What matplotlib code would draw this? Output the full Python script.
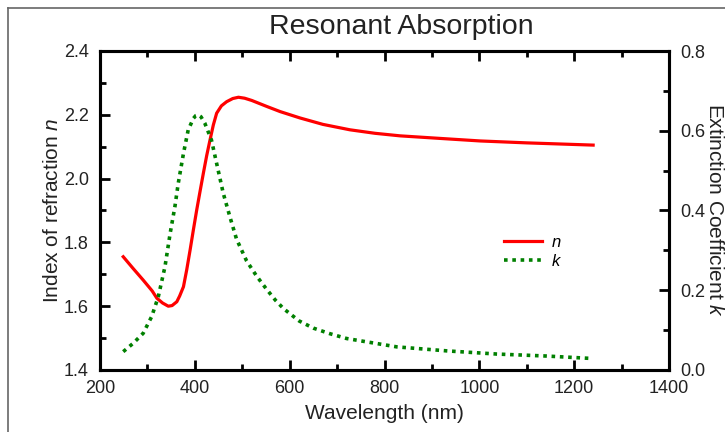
import numpy as np
import matplotlib
matplotlib.use('Agg')
import matplotlib.pyplot as plt
from matplotlib.lines import Line2D
from matplotlib.ticker import MultipleLocator, FormatStrFormatter

plt.rcParams['font.family'] = ['Liberation Sans', 'DejaVu Sans']
plt.rcParams['mathtext.fontset'] = 'custom'
plt.rcParams['mathtext.rm'] = 'Liberation Sans'
plt.rcParams['mathtext.it'] = 'Liberation Sans:italic'

# values
wl_n = [249, 270, 291, 310, 320, 332, 344, 352, 362, 368, 376, 383, 390,
        397, 404, 411, 418, 425, 432, 439, 446, 456, 467, 480, 492, 505,
        520, 552, 580, 622, 670, 727, 780, 833, 917, 1002, 1100, 1240]
n_vals = [1.755, 1.718, 1.682, 1.648, 1.625, 1.610, 1.600, 1.602, 1.614,
          1.632, 1.661, 1.715, 1.776, 1.840, 1.902, 1.960, 2.017, 2.072,
          2.121, 2.168, 2.205, 2.228, 2.241, 2.251, 2.255, 2.252, 2.245,
          2.226, 2.210, 2.190, 2.170, 2.153, 2.142, 2.134, 2.126, 2.118,
          2.112, 2.105]

wl_k = [249, 270, 291, 309, 323, 337, 348, 358, 365, 376, 386, 397, 402,
        407, 413, 421, 435, 446, 460, 474, 488, 509, 530, 551, 570, 587,
        620, 650, 685, 720, 826, 931, 1037, 1142, 1236]
k_vals = [0.046, 0.067, 0.092, 0.134, 0.184, 0.259, 0.343, 0.410, 0.468,
          0.543, 0.602, 0.631, 0.638, 0.640, 0.635, 0.619, 0.577, 0.518,
          0.443, 0.384, 0.328, 0.274, 0.236, 0.203, 0.175, 0.154, 0.123,
          0.105, 0.091, 0.079, 0.058, 0.048, 0.040, 0.035, 0.029]

fig = plt.figure(figsize=(7.25, 4.32), dpi=100)
ax = fig.add_axes([100 / 725, 1 - 370 / 432, 569 / 725, 319 / 432])
ax2 = ax.twinx()

ax.plot(wl_n, n_vals, color='#ff0000', lw=2.3, label='$n$')
ax2.plot(wl_k, k_vals, color='#008000', lw=2.6, ls=(0, (1, 1.3)), label='$k$')

ax.set_xlim(200, 1400)
ax.set_ylim(1.4, 2.4)
ax2.set_ylim(0.0, 0.8)

ax.xaxis.set_major_locator(MultipleLocator(200))
ax.xaxis.set_minor_locator(MultipleLocator(100))
for a in (ax, ax2):
    a.yaxis.set_major_locator(MultipleLocator(0.2))
    a.yaxis.set_minor_locator(MultipleLocator(0.1))
    a.yaxis.set_major_formatter(FormatStrFormatter('%.1f'))

tc = '#222222'
ax.tick_params(axis='x', which='both', direction='in', top=True, colors='black',
               labelcolor=tc, labelsize=13, pad=7)
ax.tick_params(axis='y', which='both', direction='in', left=True, right=False,
               colors='black', labelcolor=tc, labelsize=13, pad=8)
ax2.tick_params(axis='y', which='both', direction='in', colors='black',
                labelcolor=tc, labelsize=13, pad=8)
for a in (ax, ax2):
    a.tick_params(which='major', length=7, width=2)
    a.tick_params(which='minor', length=4, width=2)
    for s in a.spines.values():
        s.set_linewidth(2.2)

ax.set_xlabel('Wavelength (nm)', fontsize=15, color=tc, labelpad=5)
ax.set_ylabel('Index of refraction $n$', fontsize=15, color=tc)
ax.yaxis.set_label_coords(-0.066, 0.5)
ax2.set_ylabel('Extinction Coefficient $k$', fontsize=15, color=tc, rotation=270)
ax2.yaxis.set_label_coords(1.097, 0.5)

ax.set_title('Resonant Absorption', fontsize=20.5, color=tc, x=0.53, pad=12)

handles = [ax.get_lines()[0], ax2.get_lines()[0]]
ax.legend(handles, ['$n$', '$k$'], loc='center left', frameon=False,
          bbox_to_anchor=(0.71, 0.37), fontsize=12, handlelength=2.3,
          handletextpad=0.5, labelspacing=0.15, borderpad=0, borderaxespad=0)

# grey frame lines visible at the top and left of the picture
fig.add_artist(Line2D([8 / 725, 8 / 725], [0, 1 - 8 / 432], color='#666666', lw=1.2))
fig.add_artist(Line2D([8 / 725, 1], [1 - 8 / 432, 1 - 8 / 432], color='#666666', lw=1.2))

fig.savefig('out.png', dpi=100)
